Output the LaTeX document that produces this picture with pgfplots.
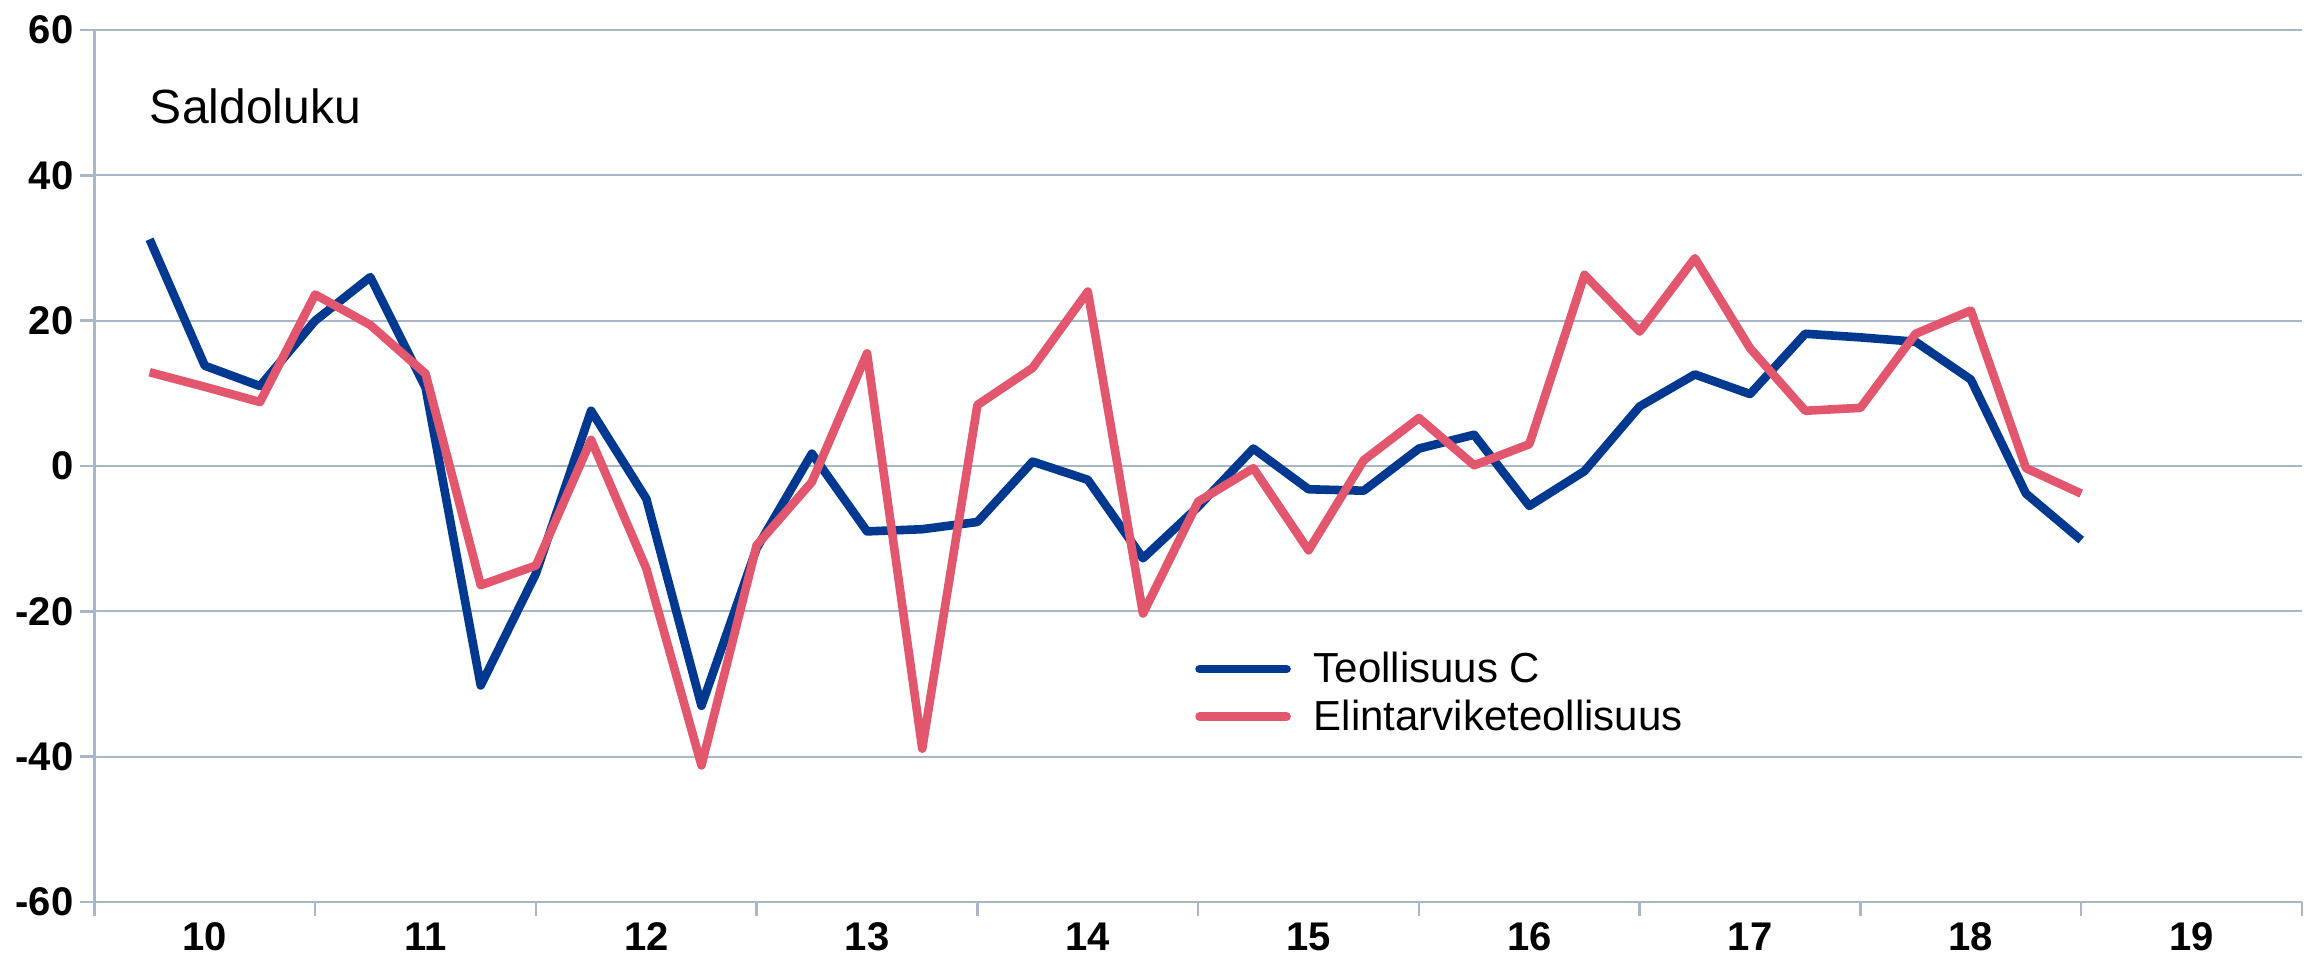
\documentclass[border=0pt]{standalone}
\usepackage{pgfplots}
\pgfplotsset{compat=1.18}
\usepackage{fontspec}
\setmainfont{Liberation Sans}
\definecolor{cblue}{HTML}{00398F}
\definecolor{cred}{HTML}{E2566E}
\definecolor{cgrid}{HTML}{A9B6C5}

\pgfplotstableread{
k v
1 31.2
2 13.8
3 11.0
4 20.0
5 26.0
6 10.8
7 -30.2
8 -14.8
9 7.6
10 -4.5
11 -33.0
12 -11.3
13 1.7
14 -9.0
15 -8.7
16 -7.7
17 0.6
18 -1.9
19 -12.7
20 -5.6
21 2.4
22 -3.2
23 -3.4
24 2.4
25 4.3
26 -5.5
27 -0.7
28 8.2
29 12.6
30 9.9
31 18.2
32 17.7
33 17.1
34 11.9
35 -3.8
36 -10.2
}\teollisuus

\pgfplotstableread{
k v
1 12.9
2 10.9
3 8.8
4 23.6
5 19.4
6 12.7
7 -16.4
8 -13.7
9 3.6
10 -14.1
11 -41.2
12 -10.9
13 -2.2
14 15.5
15 -38.9
16 8.4
17 13.5
18 24.0
19 -20.3
20 -4.9
21 -0.3
22 -11.6
23 0.8
24 6.6
25 0.1
26 3.0
27 26.3
28 18.5
29 28.6
30 16.2
31 7.6
32 8.0
33 18.2
34 21.4
35 -0.3
36 -3.8
}\elintarvike

\begin{document}
\begin{tikzpicture}
\useasboundingbox (0,0) rectangle (1158pt,478.5pt);
\begin{axis}[
  at={(47.2pt,27.5pt)}, anchor=south west,
  scale only axis, width=1103.8pt, height=436pt,
  xmin=0, xmax=40, ymin=-60, ymax=60,
  xtick={0,4,8,12,16,20,24,28,32,36,40},
  xticklabels={10,11,12,13,14,15,16,17,18,19},
  x tick label as interval,
  ytick={-60,-40,-20,0,20,40,60},
  axis x line*=bottom, axis y line*=left,
  axis line style={cgrid, line width=1.2pt, -},
  ymajorgrids, grid style={cgrid, line width=1pt},
  tick align=outside, major tick length=7pt,
  tick style={cgrid, line width=1.2pt},
  ticklabel style={font=\fontsize{20}{20}\selectfont\bfseries},
  /pgf/number format/assume math mode=true,
  clip=false,
  legend style={at={(axis cs:19.94,-25.6)}, anchor=north west, draw=none, fill=none,
    inner sep=0pt, row sep=7pt, column sep=11.5pt,
    font=\fontsize{21}{21}\selectfont, nodes={inner sep=0pt}},
  legend cell align=left,
  legend image code/.code={\draw[#1, line cap=round] (0pt,0pt) -- (43.5pt,0pt);},
]
\addplot[cblue, line width=4.3pt, line join=round] table[x=k, y=v] {\teollisuus};
\addlegendentry{Teollisuus C}
\addplot[cred, line width=4.3pt, line join=round] table[x=k, y=v] {\elintarvike};
\addlegendentry{Elintarviketeollisuus}
\node[anchor=base west, font=\fontsize{24}{24}\selectfont, inner sep=0pt] at (axis cs:1.0,47.1) {Saldoluku};
\end{axis}
\end{tikzpicture}
\end{document}
